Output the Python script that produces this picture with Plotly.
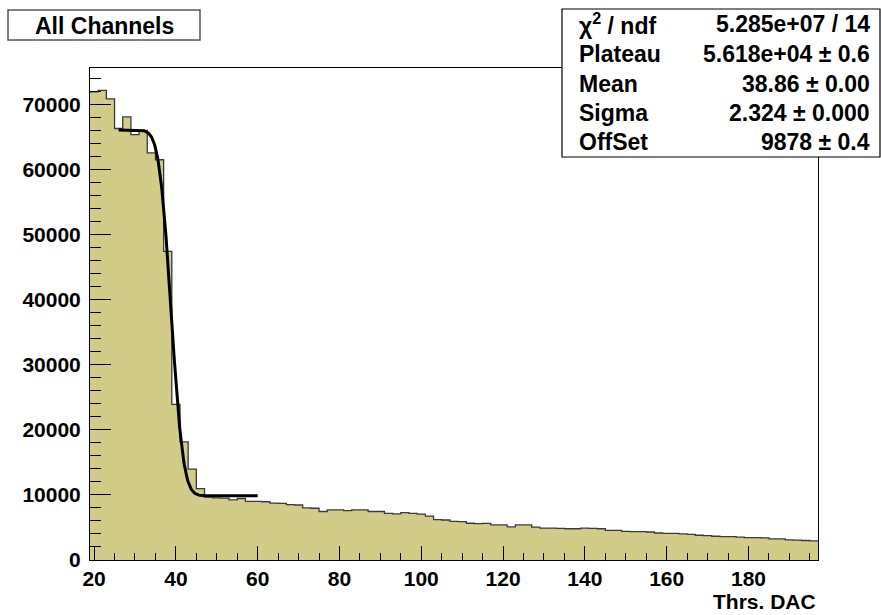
import math
import numpy as np
import plotly.graph_objects as go

# ---- data ----
bin_centers = list(range(20, 198, 2))  # Thrs. DAC, bin width 2
counts = [
    71950, 72150, 70850, 66300, 68100, 65350, 66000, 62550, 61500, 47430,
    23900, 18150, 13950, 10980, 9650, 9550, 9500, 9250, 9450, 9000,
    9000, 8950, 8750, 8700, 8500, 8450, 8000, 7950, 7450, 7700,
    7700, 7600, 7700, 7700, 7450, 7450, 7150, 7100, 7270, 7150,
    7050, 6750, 6200, 6150, 5950, 5900, 5650, 5600, 5620, 5400,
    5400, 5100, 5400, 5400, 5050, 4900, 4900, 4850, 4800, 4800,
    4900, 4850, 4800, 4550, 4550, 4400, 4350, 4350, 4300, 4150,
    4100, 4080, 4000, 3950, 3800, 3750, 3650, 3600, 3600, 3500,
    3450, 3450, 3400, 3250, 3250, 3100, 3050, 3000, 2950,
]
bin_width = 2

# fit parameters (from stat box)
fit_plateau = 5.618e4
fit_mean = 38.86
fit_sigma = 2.324
fit_offset = 9878
fit_range = [26, 60]

stat_labels = ["χ<sup>2</sup> / ndf", "Plateau", "Mean", "Sigma", "OffSet"]
stat_values = ["5.285e+07 / 14", "5.618e+04 ± 0.6", "38.86 ± 0.00",
               "2.324 ± 0.000", "9878 ± 0.4"]

x_range = [19, 197]
y_range = [0, 75600]

FILL = "rgb(210,204,136)"
FONT = "Liberation Sans, Arial, sans-serif"

# ---- figure ----
fig = go.Figure()

fig.add_trace(go.Bar(
    x=bin_centers, y=counts, width=bin_width,
    marker=dict(color=FILL, line=dict(width=0)),
    hoverinfo="skip", showlegend=False,
))

centers = np.array(bin_centers, dtype=float)
edges = np.append(centers - bin_width / 2, centers[-1] + bin_width / 2)
step_y = list(counts) + [counts[-1]]
fig.add_trace(go.Scatter(
    x=edges, y=step_y, mode="lines", line=dict(shape="hv", color="#3a3a3a", width=1.3),
    hoverinfo="skip", showlegend=False,
))

xf = np.linspace(fit_range[0], fit_range[1], 300)
yf = [0.5 * fit_plateau * math.erfc((v - fit_mean) / (math.sqrt(2) * fit_sigma)) + fit_offset for v in xf]
fig.add_trace(go.Scatter(
    x=xf, y=yf, mode="lines", line=dict(color="black", width=3),
    hoverinfo="skip", showlegend=False,
))

W, H = 881, 615
L, R, T, B = 90, 818, 68, 560
pw, ph = R - L, B - T


def px(x):
    return (x - L) / pw


def py(y):
    return (B - y) / ph


shapes = []
annotations = []

# title box
shapes.append(dict(type="rect", xref="paper", yref="paper",
                   x0=px(8), x1=px(200), y0=py(40), y1=py(10),
                   line=dict(color="#555", width=1.5), fillcolor="white", layer="above"))
annotations.append(dict(text="<b>All Channels</b>", xref="paper", yref="paper",
                        x=px(104), y=py(26), xanchor="center", yanchor="middle",
                        showarrow=False, font=dict(family=FONT, size=23, color="black")))

# stat box
shapes.append(dict(type="rect", xref="paper", yref="paper",
                   x0=px(562), x1=px(880), y0=py(157), y1=py(9),
                   line=dict(color="black", width=1.2), fillcolor="white", layer="above"))
row_y = [24, 54, 84, 113, 142]
for lab, val, ry in zip(stat_labels, stat_values, row_y):
    annotations.append(dict(text="<b>%s</b>" % lab, xref="paper", yref="paper",
                            x=px(577), y=py(ry), xanchor="left", yanchor="middle",
                            showarrow=False, font=dict(family=FONT, size=23, color="black")))
    annotations.append(dict(text="<b>%s</b>" % val, xref="paper", yref="paper",
                            x=px(872), y=py(ry), xanchor="right", yanchor="middle",
                            showarrow=False, font=dict(family=FONT, size=23, color="black")))

# x axis title
annotations.append(dict(text="<b>Thrs. DAC</b>", xref="paper", yref="paper",
                        x=1.0, y=py(601), xanchor="right", yanchor="middle",
                        showarrow=False, font=dict(family=FONT, size=21, color="black")))

fig.update_layout(
    width=W, height=H,
    margin=dict(l=L, r=W - R, t=T, b=H - B, pad=0),
    paper_bgcolor="white", plot_bgcolor="white",
    bargap=0,
    shapes=shapes, annotations=annotations,
    font=dict(family=FONT, size=21, color="black"),
    xaxis=dict(range=x_range, tickmode="linear", tick0=20, dtick=20,
               ticks="inside", ticklen=14, tickcolor="black", tickwidth=1,
               minor=dict(dtick=5, tick0=20, ticks="inside", ticklen=7, tickcolor="black"),
               showline=True, linecolor="black", linewidth=1, mirror=True,
               showgrid=False, zeroline=False,
               tickfont=dict(family=FONT, size=21, color="black", weight="bold"),
               ticklabelstandoff=0),
    yaxis=dict(range=y_range, tickmode="linear", tick0=0, dtick=10000,
               ticks="inside", ticklen=21, tickcolor="black", tickwidth=1,
               minor=dict(dtick=2000, ticks="inside", ticklen=11, tickcolor="black"),
               showline=True, linecolor="black", linewidth=1, mirror=True,
               showgrid=False, zeroline=False,
               tickformat="d",
               tickfont=dict(family=FONT, size=21, color="black", weight="bold"),
               ticklabelstandoff=4),
)

fig.write_html("out.html", config={"displayModeBar": False},
               post_script="document.body.style.margin='0';")
